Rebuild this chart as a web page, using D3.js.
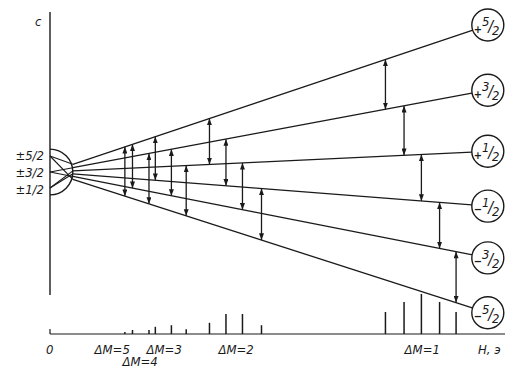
<!DOCTYPE html>
<html>
<head>
<meta charset="utf-8">
<script src="https://cdn.jsdelivr.net/npm/d3@7"></script>
<style>
  body { margin: 0; background: #fff; }
  text { font-family: "DejaVu Sans Condensed", "Liberation Sans Narrow", "DejaVu Sans", sans-serif; font-style: italic; fill: #1a1a1a; }
</style>
</head>
<body>
<div class="chartContainer"></div>
<script>
// energy levels (magnetic quantum number) and their slope dE/dH
const levels = ["+5/2", "+3/2", "+1/2", "-1/2", "-3/2", "-5/2"];
const slopes = [1.42, 0.79, 0.2, -0.33, -0.83, -1.36];

// zero field doublets (magnified in the half circle)
const zeroLabels = ["±5/2", "±3/2", "±1/2"];
const zeroE = [1.6, 0, -1.6];

// transitions: upper level, lower level, resonance field, intensity
const trFrom = [0, 0, 1, 0, 1, 2, 0, 1, 2, 3, 0, 1, 2, 3, 4];
const trTo = [5, 4, 5, 3, 4, 5, 2, 3, 4, 5, 1, 2, 3, 4, 5];
const trField = [1.77, 1.95, 2.34, 2.49, 2.87, 3.22, 3.77, 4.16, 4.55, 5.0, 7.93, 8.37, 8.78, 9.21, 9.6];
const trIntensity = [5, 10, 10, 18, 22, 12, 28, 50, 50, 22, 55, 80, 100, 80, 55];

// group labels under the spectrum
const groupLabels = ["ΔM=5", "ΔM=4", "ΔM=3", "ΔM=2", "ΔM=1"];
const groupField = [1.47, 2.13, 2.7, 4.4, 8.8];
const groupRow = [0, 1, 0, 0, 0];

const width = 508, height = 370;
const ink = "#1a1a1a";
const hStart = 0.54, hCircle = 10.35, rCircle = 16;

const x = d3.scaleLinear().domain([0, 10]).range([50, 473]);
const y = d3.scaleLinear().domain([-16.2, 16]).range([334, 12]);
const amp = d3.scaleLinear().domain([0, 100]).range([0, 40]);

const energy = (i, h) => slopes[i] * h;

const svg = d3.select('.chartContainer')
  .append('svg')
  .attr('width', width)
  .attr('height', height);

svg.append('defs').append('marker')
  .attr('id', 'ah')
  .attr('viewBox', '0 0 8 6')
  .attr('refX', 8).attr('refY', 3)
  .attr('markerWidth', 7).attr('markerHeight', 5)
  .attr('markerUnits', 'userSpaceOnUse')
  .attr('orient', 'auto-start-reverse')
  .append('path').attr('d', 'M0,0L8,3L0,6Z').attr('fill', ink);

// axes
svg.append('line')
  .attr('x1', x(0)).attr('x2', x(0))
  .attr('y1', 12).attr('y2', 295)
  .attr('stroke', ink).attr('stroke-width', 1.4);
svg.append('line')
  .attr('x1', x(0)).attr('x2', x(0))
  .attr('y1', y(-16.2) - 5).attr('y2', y(-16.2))
  .attr('stroke', ink).attr('stroke-width', 1.2);
svg.append('line')
  .attr('x1', x(0)).attr('x2', 505)
  .attr('y1', y(-16.2)).attr('y2', y(-16.2))
  .attr('stroke', ink).attr('stroke-width', 1.2);

// half circle with zero field detail
const cx0 = x(0), cy0 = y(0), r0 = x(hStart) - x(0);
svg.append('path')
  .attr('d', `M${cx0},${cy0 - r0} A${r0},${r0} 0 0 1 ${cx0},${cy0 + r0}`)
  .attr('fill', 'none').attr('stroke', ink).attr('stroke-width', 1.4);

zeroE.forEach((e, k) => {
  [k, levels.length - 1 - k].forEach(i => {
    svg.append('line')
      .attr('x1', x(0)).attr('y1', y(e))
      .attr('x2', x(hStart)).attr('y2', y(energy(i, hStart)))
      .attr('stroke', ink).attr('stroke-width', 1.1);
  });
});

svg.selectAll('.zl')
  .data(zeroLabels)
  .enter()
  .append('text')
  .attr('class', 'zl')
  .attr('x', 44)
  .attr('y', (d, k) => y(zeroE[k] * 1.05) + 5)
  .attr('text-anchor', 'end')
  .attr('font-size', 13)
  .text(d => d);

// level lines
svg.selectAll('.lev')
  .data(levels)
  .enter()
  .append('line')
  .attr('class', 'lev')
  .attr('x1', x(hStart))
  .attr('y1', (d, i) => y(energy(i, hStart)))
  .attr('x2', x(hCircle))
  .attr('y2', (d, i) => y(energy(i, hCircle)))
  .attr('stroke', ink).attr('stroke-width', 1.3);

// level circles
const lab = svg.selectAll('.lab')
  .data(levels)
  .enter()
  .append('g')
  .attr('transform', (d, i) => `translate(${x(hCircle)},${y(energy(i, hCircle))})`);
lab.append('circle')
  .attr('r', rCircle)
  .attr('fill', '#fff').attr('stroke', ink).attr('stroke-width', 1.4);
lab.append('text')
  .attr('x', -10).attr('y', d => d[0] === '+' ? 8 : 7)
  .attr('font-size', 11).attr('font-style', 'normal').attr('font-weight', 'bold')
  .attr('text-anchor', 'middle')
  .text(d => d[0] === '+' ? '+' : '−');
lab.append('text')
  .attr('x', -2).attr('y', 1)
  .attr('font-size', 13)
  .attr('text-anchor', 'middle')
  .text(d => d.slice(1).split('/')[0]);
lab.append('text')
  .attr('x', 3).attr('y', 7)
  .attr('font-size', 16)
  .attr('text-anchor', 'middle')
  .text('/');
lab.append('text')
  .attr('x', 8).attr('y', 10)
  .attr('font-size', 13)
  .attr('text-anchor', 'middle')
  .text(d => d.slice(1).split('/')[1]);

// transition arrows
svg.selectAll('.arr')
  .data(trField)
  .enter()
  .append('line')
  .attr('class', 'arr')
  .attr('x1', d => x(d)).attr('x2', d => x(d))
  .attr('y1', (d, k) => y(energy(trFrom[k], d)))
  .attr('y2', (d, k) => y(energy(trTo[k], d)))
  .attr('stroke', ink).attr('stroke-width', 1.3)
  .attr('marker-start', 'url(#ah)')
  .attr('marker-end', 'url(#ah)');

// spectrum lines
svg.selectAll('.bar')
  .data(trField)
  .enter()
  .append('line')
  .attr('class', 'bar')
  .attr('x1', d => x(d)).attr('x2', d => x(d))
  .attr('y1', y(-16.2))
  .attr('y2', (d, k) => y(-16.2) - amp(trIntensity[k]))
  .attr('stroke', ink).attr('stroke-width', 1.5);

// labels
svg.selectAll('.gl')
  .data(groupLabels)
  .enter()
  .append('text')
  .attr('class', 'gl')
  .attr('x', (d, k) => x(groupField[k]))
  .attr('y', (d, k) => groupRow[k] ? 366 : 354)
  .attr('text-anchor', 'middle')
  .attr('font-size', 13)
  .text(d => d);

svg.append('text').attr('x', 46).attr('y', 354).attr('font-size', 13).text('0');
svg.append('text').attr('x', 478).attr('y', 354).attr('font-size', 13).text('H, э');
svg.append('text').attr('x', 35).attr('y', 26).attr('font-size', 13).text('c');
</script>
</body>
</html>
